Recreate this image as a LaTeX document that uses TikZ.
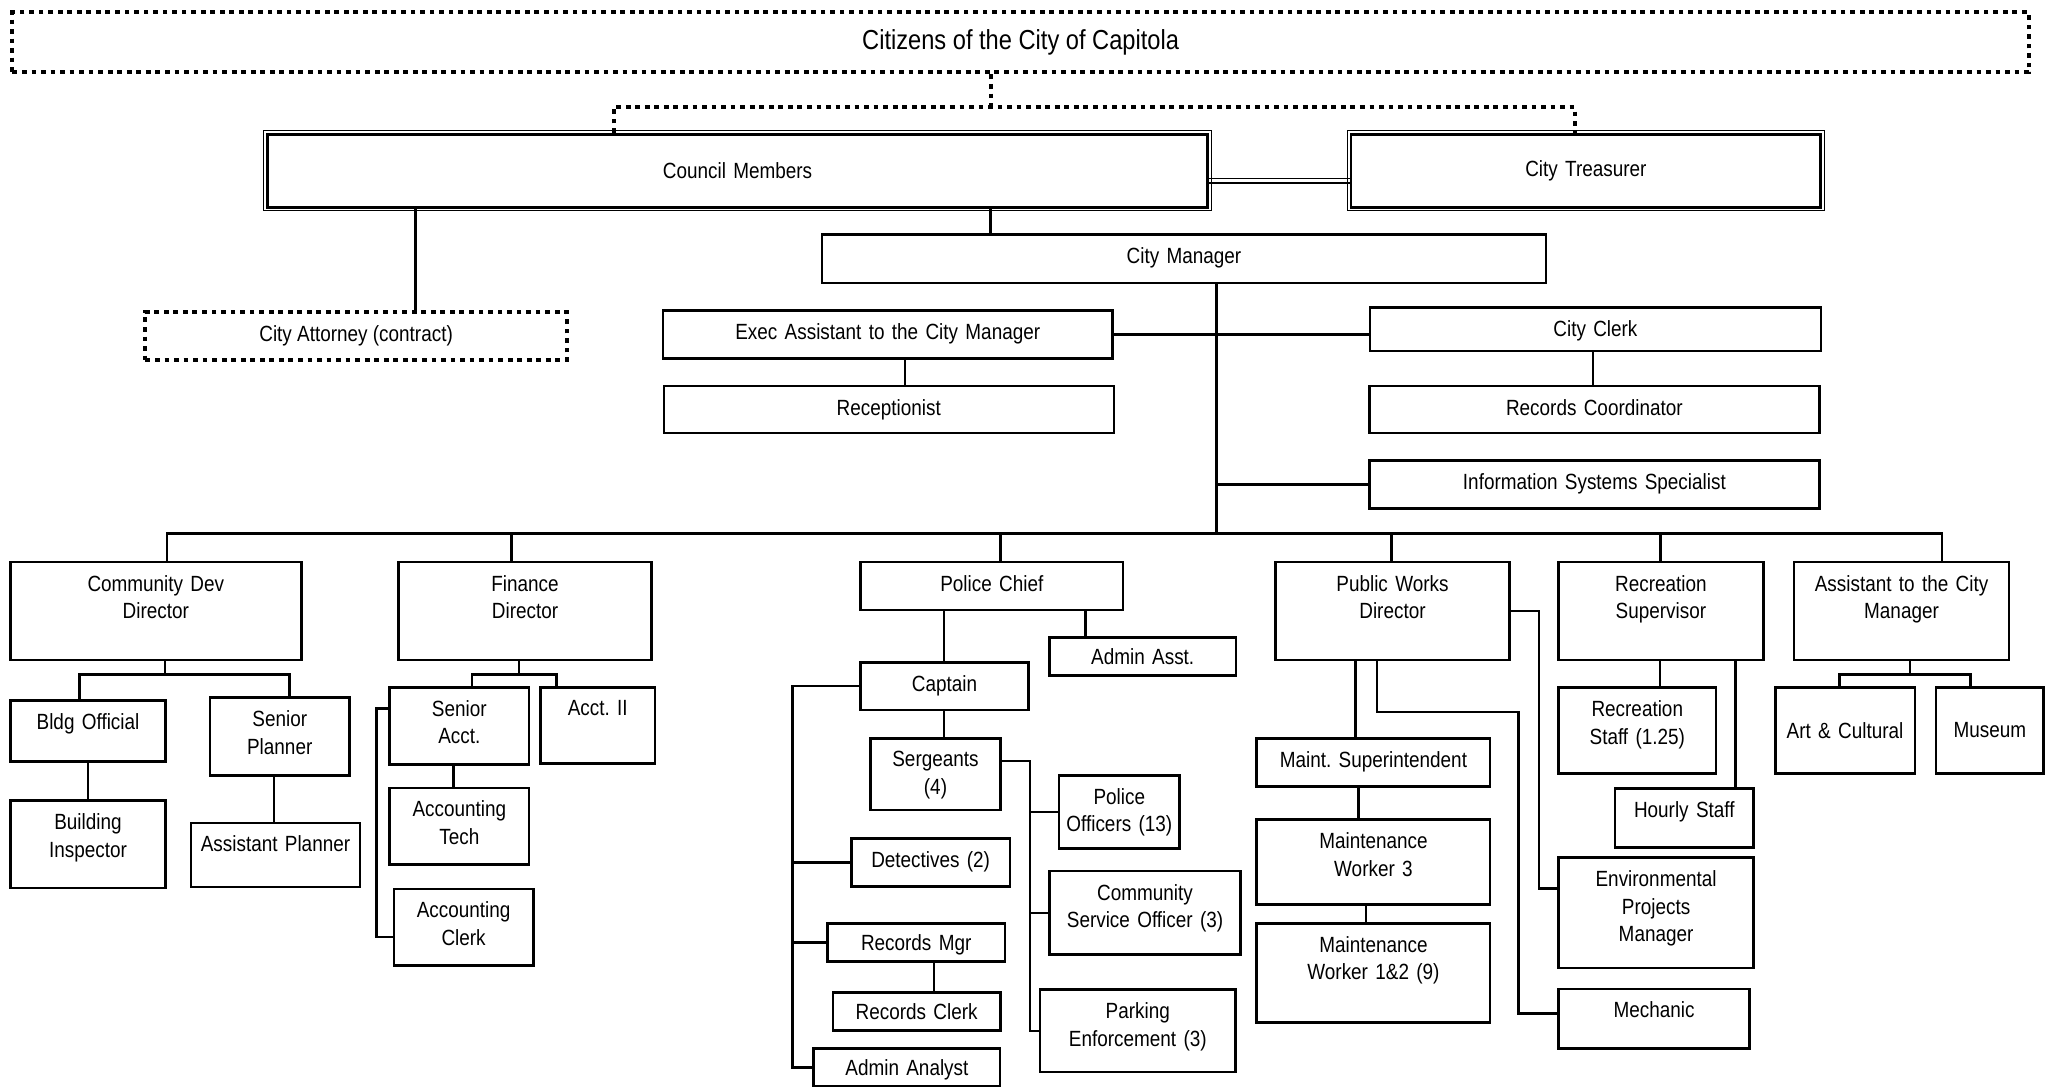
\documentclass[tikz,border=0pt]{standalone}
\usepackage{fontspec}
\setmainfont{Liberation Sans}[FakeStretch=0.86]
\frenchspacing
\begin{document}
\begin{tikzpicture}[
    box/.style={draw, line width=1.4pt, align=center, anchor=north west, inner xsep=0pt, inner ysep=0.25cm, text width=#1},
    mid/.style={box=#1, inner ysep=0pt},
    ext/.style={draw, line width=2.2pt, dash pattern=on 2.6pt off 2.6pt, anchor=north west, inner sep=0pt, align=center},
    link/.style={line width=1.4pt},
    dotline/.style={line width=2.2pt, dash pattern=on 2.6pt off 2.6pt},
    every node/.style={font=\fontsize{12}{15}\selectfont}
]
\useasboundingbox (0,0) rectangle (39.2,-20.825);

% Citizens, council and treasurer
\node[ext, minimum width=38.65cm, minimum height=1.15cm, text depth=0.12cm, font=\fontsize{15}{18}\selectfont] (citizens) at (0.2,-0.2) {Citizens of the City of Capitola};
\node[mid=18.025cm, minimum height=1.4cm] (council) at (5.1,-2.55) {Council Members};
\node[mid=9cm, minimum height=1.4cm] (treas) at (25.875,-2.55) {City Treasurer};
\foreach \n in {council,treas}
    \draw[line width=0.5pt] ([shift={(-1.2pt,-1.2pt)}]\n.south west) rectangle ([shift={(1.2pt,1.2pt)}]\n.north east);
\node[ext, minimum width=8.075cm, minimum height=0.925cm] (attorney) at (2.75,-5.9425) {City Attorney (contract)};

\coordinate (elect) at (18.9875,-2.05);
\draw[dotline] (citizens.south -| elect) -- (elect);
\draw[dotline] (11.765,0 |- council.north) |- (elect) -| (30.1825,0 |- treas.north);
\draw[link] ([yshift=-0.2325cm]council.east) -- ([yshift=-0.2325cm]treas.west);
\draw[line width=0.5pt] ([yshift=-0.14cm]council.east) -- ([yshift=-0.14cm]treas.west);
\draw[link] (7.96,0 |- council.south) -- (7.96,0 |- attorney.north);

% City Manager and office staff
\node[box=13.875cm, text depth=0.12cm] (mgr) at (15.7325,-4.4725) {City Manager};
\node[box=8.625cm, text depth=0.115cm] (exec) at (12.68,-5.93) {Exec Assistant to the City Manager};
\node[box=8.65cm, text depth=0.03cm] (clerk) at (26.2325,-5.865) {City Clerk};
\node[box=8.625cm, text depth=0.095cm] (recep) at (12.7,-7.375) {Receptionist};
\node[box=8.625cm, text depth=0.095cm] (rcoord) at (26.225,-7.375) {Records Coordinator};
\node[box=8.625cm, text depth=0.12cm] (iss) at (26.225,-8.8) {Information Systems Specialist};

\draw[link] (elect |- council.south) -- (elect |- mgr.north);
\coordinate (bus) at (23.32,-10.23);
\draw[link] (bus |- mgr.south) -- (bus);
\draw[link] (exec.east) -- (exec.east -| clerk.west);
\draw[link] (17.3475,0 |- exec.south) -- (17.3475,0 |- recep.north);
\draw[link] (30.5375,0 |- clerk.south) -- (30.5375,0 |- rcoord.north);
\draw[link] (bus |- iss.west) -- (iss.west);

% Department heads
\foreach \n/\x/\w/\txt in {cdd/0.175/5.575/{Community Dev\\Director}, fd/7.615/4.85/{Finance\\Director},
        pwd/24.43/4.475/{Public Works\\Director}, rs/29.85/3.925/{Recreation\\Supervisor},
        acm/34.3675/4.115/{Assistant to the City\\Manager}}
    \node[box=\w cm, text depth=1.07cm] (\n) at (\x,-10.75) {\txt};
\node[box=5.025cm, text depth=0.11cm] (pc) at (16.475,-10.75) {Police Chief};

\draw[link] (3.2,0 |- cdd.north) |- (bus) -| (37.225,0 |- acm.north);
\foreach \x/\n in {9.8/fd, 19.175/pc, 26.675/pwd, 31.825/rs}
    \draw[link] (\x,0 |- \n.north) -- (\x,0 |- bus);

% Community Dev
\node[box=2.975cm, text depth=0.37cm] (bldg) at (0.175,-13.4) {Bldg Official};
\node[box=2.975cm, text depth=0.87cm] (binsp) at (0.175,-15.325) {Building\\Inspector};
\node[box=2.675cm, text depth=0.68cm] (splan) at (4,-13.35) {Senior\\Planner};
\node[box=3.2375cm, text depth=0.42cm] (aplan) at (3.6375,-15.75) {Assistant Planner};

\coordinate (cddj) at (3.165,-12.925);
\draw[link] (cddj |- cdd.south) -- (cddj);
\draw[link] (1.525,0 |- bldg.north) |- (cddj) -| (5.55,0 |- splan.north);
\draw[link] (bldg.south) -- (bldg.south |- binsp.north);
\draw[link] (5.25,0 |- splan.south) -- (5.25,0 |- aplan.north);

% Finance
\node[box=2.67cm, text depth=0.67cm] (sacct) at (7.445,-13.15) {Senior\\Acct.};
\node[box=2.2cm, text depth=0.67cm] (acct2) at (10.3325,-13.15) {Acct. II};
\node[box=2.67cm, text depth=0.665cm] (atech) at (7.445,-15.08) {Accounting\\Tech};
\node[box=2.675cm, text depth=0.66cm] (aclerk) at (7.525,-17.015) {Accounting\\Clerk};

\coordinate (fdj) at (9.95,-12.925);
\draw[link] (fdj |- fd.south) -- (fdj);
\draw[link] (9.045,0 |- sacct.north) |- (fdj) -| (10.67,0 |- acct2.north);
\draw[link] (8.69,0 |- sacct.south) -- (8.69,0 |- atech.north);
\draw[link] ([yshift=0.33cm]sacct.west) -- ++(-0.23,0) |- ([yshift=-0.19cm]aclerk.west);

% Police
\node[box=3.575cm, inner ysep=0.21cm, text depth=0cm] (aasst) at (20.0925,-12.2) {Admin Asst.};
\node[box=3.2125cm, text depth=0.11cm] (capt) at (16.475,-12.67) {Captain};
\node[box=2.5cm, text depth=0.58cm] (serg) at (16.6575,-14.1275) {Sergeants\\(4)};
\node[box=3.045cm, text depth=0.115cm] (det) at (16.2925,-16.05) {Detectives (2)};
\node[box=3.4cm, inner ysep=0.21cm, text depth=0cm] (rmgr) at (15.8375,-17.6775) {Records Mgr};
\node[box=3.2125cm, inner ysep=0.21cm, text depth=0cm] (rclerk) at (15.94,-19) {Records Clerk};
\node[box=3.575cm, inner ysep=0.21cm, text depth=0cm] (aanal) at (15.5725,-20.075) {Admin Analyst};
\node[box=2.3125cm, text depth=0.595cm] (po) at (20.275,-14.84) {Police\\Officers (13)};
\node[box=3.6625cm, text depth=0.795cm] (cso) at (20.0925,-16.6725) {Community\\Service Officer (3)};
\node[box=3.75cm, text depth=0.77cm] (park) at (19.91,-18.9475) {Parking\\Enforcement (3)};

\draw[link] (18.095,0 |- pc.south) -- (18.095,0 |- capt.north);
\draw[link] (18.095,0 |- capt.south) -- (18.095,0 |- serg.north);
\draw[link] (20.805,0 |- pc.south) -- (20.805,0 |- aasst.north);
\draw[link] (capt.west) -| (15.1925,0 |- aanal.west) -- (aanal.west);
\foreach \n in {det,rmgr}
    \draw[link] (15.1925,0 |- \n.west) -- (\n.west);
\draw[link] (17.905,0 |- rmgr.south) -- (17.905,0 |- rclerk.north);
\draw[link] ([yshift=0.255cm]serg.east) -| (19.74,0 |- park.west) -- (park.west);
\foreach \n in {po,cso}
    \draw[link] (19.74,0 |- \n.west) -- (\n.west);

% Public Works
\node[box=4.475cm, text depth=0.12cm] (ms) at (24.065,-14.1275) {Maint. Superintendent};
\node[box=4.475cm, text depth=0.825cm] (mw3) at (24.065,-15.6875) {Maintenance\\Worker 3};
\node[box=4.475cm, text depth=1.09cm] (mw12) at (24.065,-17.6775) {Maintenance\\Worker 1\&2 (9)};
\node[box=3.74cm, text depth=1.31cm] (env) at (29.85,-16.415) {Environmental\\Projects\\Manager};
\node[box=3.66cm, text depth=0.34cm] (mech) at (29.85,-18.9325) {Mechanic};

\draw[link] (25.985,0 |- pwd.south) -- (25.985,0 |- ms.north);
\draw[link] (26.0425,0 |- ms.south) -- (26.0425,0 |- mw3.north);
\draw[link] (26.18,0 |- mw3.south) -- (26.18,0 |- mw12.north);
\draw[link] (26.395,0 |- pwd.south) -- ++(0,-0.97) -- ++(2.71,0) |- ([yshift=0.1cm]mech.west);
\draw[link] (pwd.east) -- ++(0.55,0) |- ([yshift=0.47cm]env.west);

% Recreation
\node[box=3.02cm, text depth=0.84cm] (rstaff) at (29.85,-13.1575) {Recreation\\Staff (1.25)};
\node[box=2.6575cm, text depth=0.33cm] (hourly) at (30.9325,-15.085) {Hourly Staff};

\draw[link] (31.8175,0 |- rs.south) -- (31.8175,0 |- rstaff.north);
\draw[link] (33.265,0 |- rs.south) -- (33.265,0 |- hourly.north);

% Assistant to the City Manager
\node[mid=2.675cm, minimum height=1.6425cm] (art) at (34.005,-13.1575) {Art \& Cultural};
\node[mid=2.065cm, minimum height=1.6425cm] (mus) at (37.085,-13.1575) {Museum};

\coordinate (acmj) at (36.6125,-12.9275);
\draw[link] (acmj |- acm.south) -- (acmj);
\draw[link] (35.255,0 |- art.north) |- (acmj) -| (37.7725,0 |- mus.north);

\end{tikzpicture}
\end{document}
